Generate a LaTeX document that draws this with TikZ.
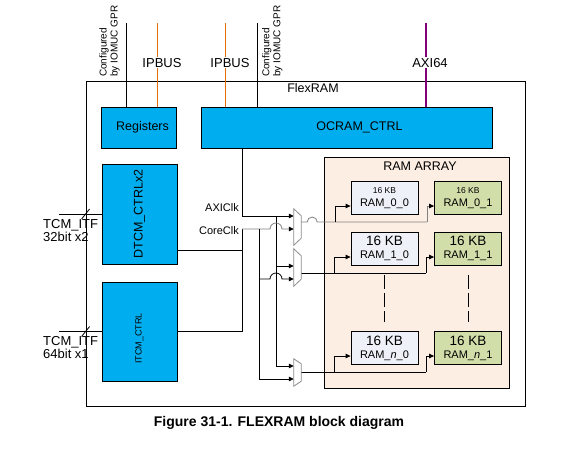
\documentclass[tikz,border=0pt]{standalone}
\usepackage{fontspec}
\setmainfont{Liberation Sans}
\usepackage{graphicx}
\usetikzlibrary{arrows.meta, positioning, calc}
\definecolor{ipblue}{RGB}{0,174,239}
\definecolor{arraypeach}{RGB}{253,238,227}
\definecolor{ramblue}{RGB}{238,242,248}
\definecolor{ramgreen}{RGB}{210,222,170}
\definecolor{busorange}{RGB}{228,108,10}
\definecolor{axipurple}{RGB}{128,0,128}

\begin{document}
\begin{tikzpicture}[
    x=1pt, y=-1pt,
    wire/.style={line width=0.8pt},
    graywire/.style={wire, draw=black!50},
    feed/.style={-{Triangle[length=5pt,width=4.5pt,black]}},
    ipbus/.style={line width=0.9pt, draw=busorange},
    axibus/.style={line width=2.6pt, draw=axipurple},
    frame/.style={draw, line width=0.8pt, inner sep=0pt,
                  minimum width=439pt, minimum height=325pt},
    ipbox/.style={draw, line width=0.8pt, fill=ipblue, inner sep=0pt,
                  font=\fontsize{12.5}{14}\selectfont},
    arraybox/.style={draw, line width=0.8pt, fill=arraypeach, inner sep=0pt,
                     minimum width=185pt, minimum height=231pt},
    ramA/.style={draw, line width=0.8pt, fill=ramblue, align=center,
                 inner sep=0pt, minimum width=67pt, minimum height=33pt,
                 font=\fontsize{11}{13}\selectfont},
    ramB/.style={ramA, fill=ramgreen},
    mux/.style={inner sep=0pt, minimum width=7pt},
    muxline/.style={draw=black!45, line width=0.8pt, fill=white},
    boxlbl/.style={inner sep=0pt, font=\fontsize{12.5}{14}\selectfont},
    buslbl/.style={fill=white, inner sep=1pt, font=\fontsize{13}{15}\selectfont},
    cfglbl/.style={rotate=90, align=left, inner sep=0pt,
                   font=\fontsize{10}{11}\selectfont},
    tcmlbl/.style={align=left, inner sep=0pt, font=\fontsize{13}{13}\selectfont},
    clklbl/.style={inner sep=1pt, font=\fontsize{11}{13}\selectfont},
    caption/.style={font=\bfseries\fontsize{14}{16}\selectfont},
]
\useasboundingbox (0,0) rectangle (586,456);

% outer block and its parts
\node[frame] (flexram) at (305.5,243.5) {};
\node[boxlbl] (flexlbl) at (313,88) {FlexRAM};

\node[ipbox, minimum width=75pt, minimum height=41pt] (regs) at (138.5,127.5)
     {\hspace*{8pt}Registers};
\node[ipbox, minimum width=291pt, minimum height=41pt] (ocram) at (346.5,127.5)
     {\hspace*{26pt}OCRAM\_CTRL};
\node[ipbox, minimum width=75pt, minimum height=100pt] (dtcm) at (139.5,214)
     {\rotatebox{90}{DTCM\_CTRLx2}};
\node[ipbox, minimum width=75pt, minimum height=99pt,
      font=\fontsize{9}{11}\selectfont] (itcm) at (139.5,331.5)
     {\rotatebox{90}{ITCM\_CTRL\hspace{14pt}}};

\node[arraybox] (ramarray) at (416.5,272.5) {};
\node[boxlbl] (arraylbl) at (420,166) {RAM ARRAY};

\node[ramA] (ram00) at (384.5,198)
     {{\fontsize{8.5}{9}\selectfont 16 KB}\\RAM\_0\_0};
\node[ramB] (ram01) at (468,198)
     {{\fontsize{8.5}{9}\selectfont 16 KB}\\RAM\_0\_1};
\node[ramA] (ram10) at (384.5,248.5)
     {{\fontsize{13.5}{14}\selectfont 16 KB}\\RAM\_1\_0};
\node[ramB] (ram11) at (468,248.5)
     {{\fontsize{13.5}{14}\selectfont 16 KB}\\RAM\_1\_1};
\node[ramA] (ramn0) at (384.5,348)
     {{\fontsize{13.5}{14}\selectfont 16 KB}\\RAM\_\textit{n}\_0};
\node[ramB] (ramn1) at (468,348)
     {{\fontsize{13.5}{14}\selectfont 16 KB}\\RAM\_\textit{n}\_1};

\draw[wire, dash pattern=on 14pt off 4pt] ($(ram10.south)+(0,10)$) -- ($(ramn0.north)+(0,-9)$);
\draw[wire, dash pattern=on 14pt off 4pt] ($(ram11.south)+(0,10)$) -- ($(ramn1.north)+(0,-9)$);

% buses from the top
\coordinate (cfgA) at (126,23);
\coordinate (busA) at (157,23);
\coordinate (busB) at (225,23);
\coordinate (cfgB) at (257,23);
\coordinate (axi) at (426,23);

\draw[wire] (cfgA) -- (cfgA |- regs.north);
\draw[ipbus] (busA) -- (busA |- regs.north)
     node[buslbl, pos=0.476, xshift=5pt] (ipbusA) {IPBUS};
\draw[ipbus] (busB) -- (busB |- ocram.north)
     node[buslbl, pos=0.476, xshift=5pt] (ipbusB) {IPBUS};
\draw[wire] (cfgB) -- (cfgB |- ocram.north);
\draw[axibus] (axi) -- (axi |- ocram.north)
     node[buslbl, pos=0.476, xshift=4pt] (axilbl) {AXI64};

\node[cfglbl, anchor=south west] (cfgAlbl) at (120,77) {Configured\\by IOMUC GPR};
\node[cfglbl, anchor=north west] (cfgBlbl) at (262,77) {Configured\\by IOMUC GPR};

% TCM interfaces
\coordinate (tcmA) at (59,214);
\coordinate (tcmB) at (59,331.5);
\coordinate (slashA) at (flexram.west |- dtcm.west);
\coordinate (slashB) at (flexram.west |- itcm.west);
\draw[wire] (tcmA) -- (dtcm.west);
\draw[wire] (tcmB) -- (itcm.west);
\draw[wire] ($(slashA)+(-4,5)$) -- ($(slashA)+(4,-5)$);
\draw[wire] ($(slashB)+(-4,5)$) -- ($(slashB)+(4,-5)$);
\node[tcmlbl, anchor=north west] (itfA) at (43,219) {TCM\_ITF\\32bit x2};
\node[tcmlbl, anchor=north west] (itfB) at (43,336) {TCM\_ITF\\64bit x1};

% clock muxes
\node[mux, minimum height=36pt] (mux1) at (297.5,227) {};
\node[mux, minimum height=37pt] (mux2) at (297.5,267.5) {};
\node[mux, minimum height=27pt] (mux3) at (297.5,372.5) {};

% AXIClk net
\coordinate (axiclk) at (242,216);
\coordinate (axidown) at (276,216);
\draw[wire] (ocram.south -| axiclk) -- (axiclk);
\draw[wire, feed] (axiclk) -- (mux1.west |- axiclk);
\draw[wire, feed] (axidown) |- (mux3.west |- 0,366);
\draw[wire, feed] (axidown |- 0,266) -- (mux2.west |- 0,266);
\node[clklbl, anchor=base east] (axilabel) at (240,211) {AXIClk};

% CoreClk net
\coordinate (coreclk) at (242,229);
\coordinate (coredown) at (259,229);
\draw[wire] (dtcm.east |- 0,250) -- (coreclk |- 0,250);
\draw[wire] (coreclk) |- (itcm.east);
\draw[graywire, feed] (coreclk) -- ($(axidown |- coreclk)+(-6,0)$)
     arc[start angle=180, end angle=0, radius=6pt] -- (mux1.west |- coreclk);
\draw[wire, feed] (coredown) |- (mux3.west |- 0,379);
\draw[wire, feed] (coredown |- 0,279) -- ($(axidown |- 0,279)+(-6,0)$)
     arc[start angle=180, end angle=0, radius=6pt] -- (mux2.west |- 0,279);
\node[clklbl, anchor=base east] (corelabel) at (240,234) {CoreClk};

% mux outputs to the RAM banks
\coordinate (tap0) at (335,222);
\coordinate (tap0b) at (427,222);
\coordinate (tap1) at (334,273);
\coordinate (tap1b) at (426,273);
\coordinate (tap2) at (334,372);
\coordinate (tap2b) at (426,372);

\draw[graywire] (mux1.east |- tap0) -- ($(mux1.east |- tap0)+(6,0)$)
     arc[start angle=180, end angle=0, radius=5pt] -- (tap0b);
\draw[wire, feed] (tap0) |- (ram00.west |- 0,206);
\draw[graywire, feed] (tap0b) |- (ram01.west |- 0,206);

\draw[wire] (mux2.east |- tap1) -- (tap1b);
\draw[wire, feed] (tap1) |- (ram10.west |- 0,257);
\draw[wire, feed] (tap1b) |- (ram11.west |- 0,257);

\draw[wire] (mux3.east |- tap2) -- (tap2b);
\draw[wire, feed] (tap2) |- (ramn0.west |- 0,356);
\draw[wire, feed] (tap2b) |- (ramn1.west |- 0,356);

\draw[muxline] (mux1.north west) -- (mux1.south west) -- ($(mux1.south east)+(0,-7)$)
     -- ($(mux1.north east)+(0,7)$) -- cycle;
\draw[muxline] (mux2.north west) -- (mux2.south west) -- ($(mux2.south east)+(0,-7)$)
     -- ($(mux2.north east)+(0,7)$) -- cycle;
\draw[muxline] (mux3.north west) -- (mux3.south west) -- ($(mux3.south east)+(0,-5)$)
     -- ($(mux3.north east)+(0,5)$) -- cycle;

\node[caption] (cap) at (279,423) {Figure 31-1. FLEXRAM block diagram};

\end{tikzpicture}
\end{document}
